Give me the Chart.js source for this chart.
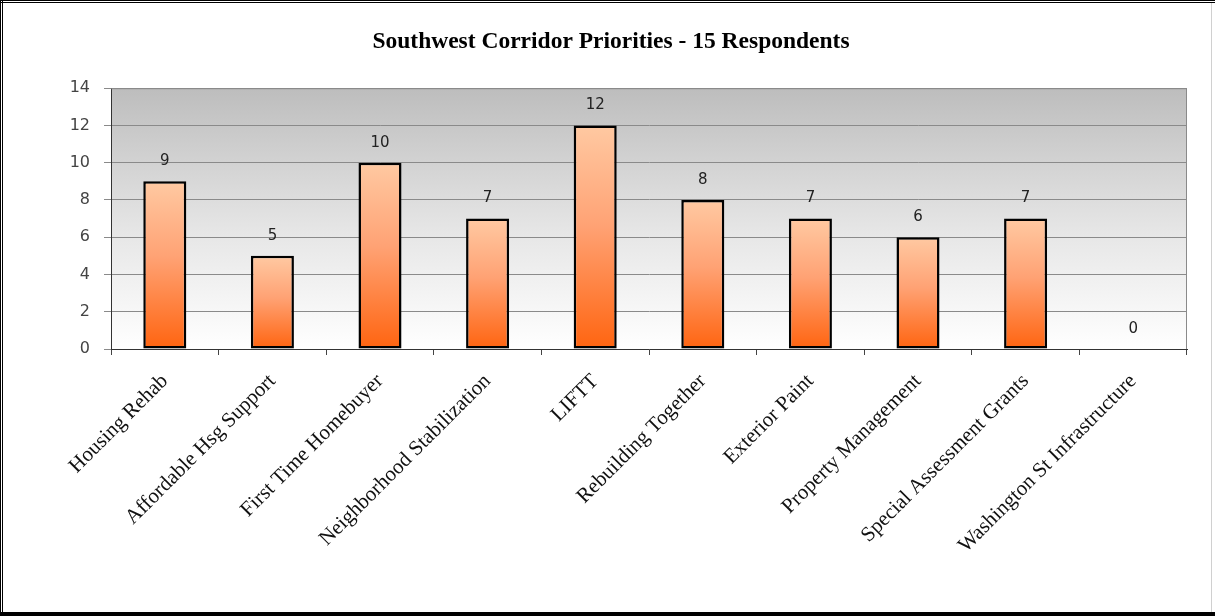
<!DOCTYPE html>
<html>
<head>
<meta charset="utf-8">
<script src="https://cdn.jsdelivr.net/npm/chart.js@4"></script>
<style>
  html, body { margin: 0; padding: 0; background: #fff; }
  #wrap { width: 1215px; height: 616px; }
</style>
</head>
<body>
<div id="wrap"><canvas id="priorityChart" width="1215" height="616"></canvas></div>
<script>
const categories = [
    'Housing Rehab', 'Affordable Hsg Support', 'First Time Homebuyer',
    'Neighborhood Stabilization', 'LIFTT', 'Rebuilding Together',
    'Exterior Paint', 'Property Management', 'Special Assessment Grants',
    'Washington St Infrastructure'
];
const responses = [9, 5, 10, 7, 12, 8, 7, 6, 7, 0];
const yTicks = [0, 2, 4, 6, 8, 10, 12, 14];
const titleText = 'Southwest Corridor Priorities - 15 Respondents';

// bar fill: peach at top fading to deep orange at the base
function barGradient(ctx) {
    const chart = ctx.chart;
    const area = chart.chartArea;
    if (!area || ctx.parsed === undefined) return '#ff9a60';
    const yScale = chart.scales.y;
    const top = yScale.getPixelForValue(ctx.parsed.y);
    const bottom = yScale.getPixelForValue(0);
    if (bottom - top < 1) return '#ff9a60';
    const g = chart.ctx.createLinearGradient(0, top, 0, bottom);
    g.addColorStop(0, '#ffc9a2');
    g.addColorStop(0.45, '#ffa274');
    g.addColorStop(1, '#ff6410');
    return g;
}

const plotBackground = {
    id: 'plotBackground',
    beforeDraw(chart) {
        const { ctx, chartArea: a } = chart;
        const g = ctx.createLinearGradient(0, a.top, 0, a.bottom);
        g.addColorStop(0, '#bdbdbd');
        g.addColorStop(0.55, '#e6e6e6');
        g.addColorStop(1, '#ffffff');
        ctx.save();
        ctx.fillStyle = g;
        ctx.fillRect(a.left, a.top, a.right - a.left, a.bottom - a.top);
        ctx.restore();
    },
    afterDraw(chart) {
        const { ctx, chartArea: a, width, height } = chart;
        ctx.save();
        // plot area border (top / right)
        ctx.strokeStyle = '#8a8a8a';
        ctx.lineWidth = 1;
        ctx.beginPath();
        ctx.moveTo(a.left, a.top + 0.5);
        ctx.lineTo(a.right - 0.5, a.top + 0.5);
        ctx.lineTo(a.right - 0.5, a.bottom);
        ctx.stroke();
        // picture frame
        ctx.fillStyle = '#000';
        ctx.fillRect(0, 0, width, 1);
        ctx.fillRect(0, 2, width, 1);
        ctx.fillRect(0, 0, 1, height);
        ctx.fillRect(2, 0, 1, height);
        ctx.fillRect(0, height - 4, width, 4);
        ctx.fillStyle = '#d0d0d0';
        ctx.fillRect(width - 4, 3, 1, height - 7);
        ctx.restore();
    }
};

const valueLabels = {
    id: 'valueLabels',
    afterDatasetsDraw(chart) {
        const { ctx } = chart;
        const meta = chart.getDatasetMeta(0);
        ctx.save();
        ctx.font = '15px "DejaVu Sans"';
        ctx.fillStyle = '#222';
        ctx.textAlign = 'center';
        ctx.textBaseline = 'middle';
        meta.data.forEach((bar, i) => {
            ctx.fillText(String(responses[i]), bar.x, bar.y - 20);
        });
        ctx.restore();
    }
};

new Chart(document.getElementById('priorityChart'), {
    type: 'bar',
    data: {
        labels: categories,
        datasets: [{
            label: 'Respondents',
            data: responses,
            backgroundColor: barGradient,
            borderColor: '#000',
            borderWidth: 2.5,
            borderSkipped: false,
            categoryPercentage: 1,
            barPercentage: 0.4
        }]
    },
    options: {
        responsive: false,
        animation: false,
        devicePixelRatio: 1,
        layout: { padding: { left: 35, right: 28, top: 0, bottom: 0 } },
        plugins: {
            legend: { display: false },
            tooltip: { enabled: false },
            title: {
                display: true,
                text: titleText,
                color: '#000',
                font: { family: '"Liberation Serif"', size: 23.5, weight: 'bold' },
                padding: { top: 28, bottom: 32 }
            }
        },
        scales: {
            x: {
                grid: { drawOnChartArea: false, drawTicks: true, tickLength: 6, color: '#444', offset: true },
                border: { display: true, color: '#333', width: 1 },
                ticks: {
                    autoSkip: false,
                    minRotation: 45,
                    maxRotation: 45,
                    color: '#111',
                    font: { family: '"Liberation Serif"', size: 21 },
                    padding: 14,
                    labelOffset: 0
                },
                afterFit: scale => { scale.height = 267; }
            },
            y: {
                min: 0,
                max: 14,
                afterBuildTicks: scale => { scale.ticks = yTicks.map(v => ({ value: v })); },
                grid: { color: '#8a8a8a', tickLength: 7, drawTicks: true },
                border: { display: true, color: '#333', width: 1 },
                ticks: {
                    color: '#444',
                    font: { family: '"DejaVu Sans"', size: 16 },
                    padding: 14
                },
                afterFit: scale => { scale.width = 76; }
            }
        }
    },
    plugins: [plotBackground, valueLabels]
});
</script>
</body>
</html>
